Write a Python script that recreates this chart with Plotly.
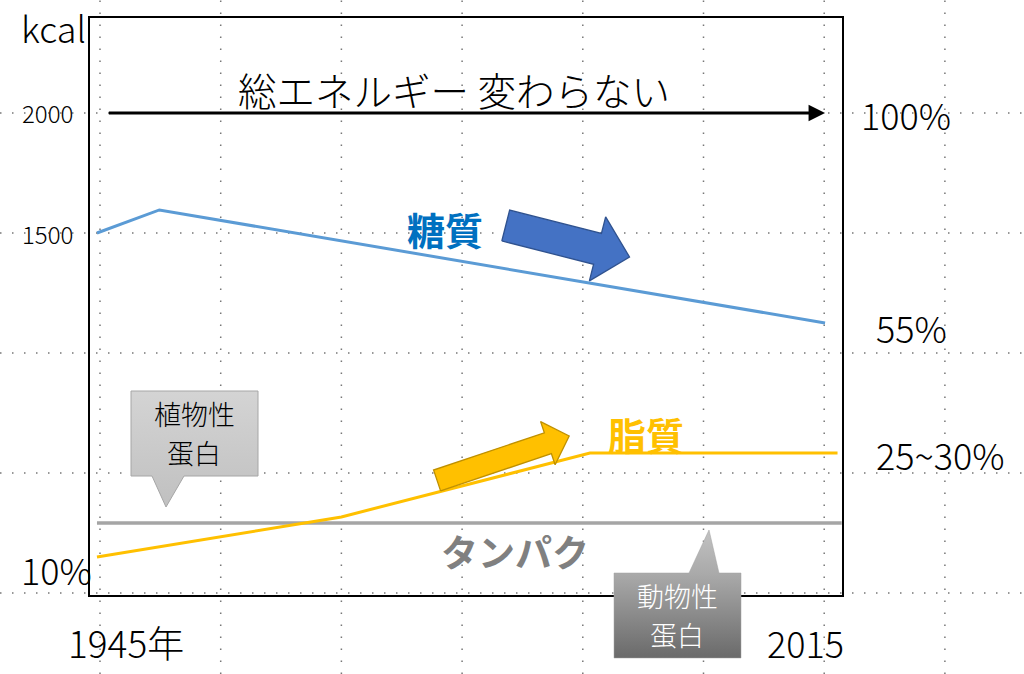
import plotly.graph_objects as go

# values (x = year, y = kcal)
carb_years = [1945, 1951, 2015]
carb_kcal = [1500, 1596, 1125]

fat_years = [1945, 1968.5, 1992.4, 2016.2]
fat_kcal = [150, 317, 583, 583]

protein_years = [1945, 2016.6]
protein_kcal = [292, 292]

total_years = [1946, 2015]
total_kcal = [2000, 2000]

kcal_ticks = [2000, 1500]
share_labels = ["100%", "55%", "25~30%"]
share_kcal = [1996, 1108, 579]
low_share_label = "10%"
low_share_kcal = 100
year_labels = ["1945年", "2015"]

# canvas / plot box in pixels
W, H = 1024, 674
BOX_L, BOX_T, BOX_R, BOX_B = 90, 18, 842, 595
X_RANGE = [1944.33, 2016.63]
Y_RANGE = [-8.3, 2395.8]

FONT = "Noto Sans CJK JP"


def px(year, kcal):
    x = BOX_L + (year - X_RANGE[0]) / (X_RANGE[1] - X_RANGE[0]) * (BOX_R - BOX_L)
    y = BOX_B - (kcal - Y_RANGE[0]) / (Y_RANGE[1] - Y_RANGE[0]) * (BOX_B - BOX_T)
    return x, y


def block_arrow(tail, tip, shaft_w, head_w, head_len):
    # tail / tip in data coords, sizes in pixels -> polygon in pixels
    x0, y0 = px(*tail)
    x1, y1 = px(*tip)
    dx, dy = x1 - x0, y1 - y0
    ln = (dx * dx + dy * dy) ** 0.5
    ux, uy = dx / ln, dy / ln
    nx, ny = -uy, ux
    bx, by = x1 - ux * head_len, y1 - uy * head_len
    pts = [
        (x0 + nx * shaft_w / 2, y0 + ny * shaft_w / 2),
        (bx + nx * shaft_w / 2, by + ny * shaft_w / 2),
        (bx + nx * head_w / 2, by + ny * head_w / 2),
        (x1, y1),
        (bx - nx * head_w / 2, by - ny * head_w / 2),
        (bx - nx * shaft_w / 2, by - ny * shaft_w / 2),
        (x0 - nx * shaft_w / 2, y0 - ny * shaft_w / 2),
    ]
    pts.append(pts[0])
    return [p[0] for p in pts], [p[1] for p in pts]


def callout(box, base, tip):
    l, t, r, b = box
    if tip[1] > b:  # pointer below the box
        pts = [(l, t), (r, t), (r, b), (base[1], b), tip, (base[0], b), (l, b), (l, t)]
    else:  # pointer above the box
        pts = [(l, t), (base[0], t), tip, (base[1], t), (r, t), (r, b), (l, b), (l, t)]
    return [p[0] for p in pts], [p[1] for p in pts]


fig = go.Figure()

# main data lines
fig.add_trace(go.Scatter(x=protein_years, y=protein_kcal, mode="lines",
                         line=dict(color="#A5A5A5", width=3.5), hoverinfo="skip"))
fig.add_trace(go.Scatter(x=fat_years, y=fat_kcal, mode="lines",
                         line=dict(color="#FFC000", width=3), hoverinfo="skip"))
fig.add_trace(go.Scatter(x=carb_years, y=carb_kcal, mode="lines",
                         line=dict(color="#5B9BD5", width=3), hoverinfo="skip"))

# block arrows (decoration, drawn on a pixel overlay axis)
ax_, ay_ = block_arrow((1984.3, 1531), (1996.2, 1400), 31.8, 66, 33)
fig.add_trace(go.Scatter(x=ax_, y=ay_, mode="lines", fill="toself", fillcolor="#4472C4",
                         line=dict(color="#2F528F", width=1.3), xaxis="x2", yaxis="y2",
                         hoverinfo="skip"))
ax_, ay_ = block_arrow((1977.7, 469), (1990.4, 654), 22, 45.5, 22.5)
fig.add_trace(go.Scatter(x=ax_, y=ay_, mode="lines", fill="toself", fillcolor="#FFC000",
                         line=dict(color="#BF9000", width=1.3), xaxis="x2", yaxis="y2",
                         hoverinfo="skip"))

# callouts
cx, cy = callout((131, 391, 258, 476), (152, 184), (166, 507))
fig.add_trace(go.Scatter(x=cx, y=cy, mode="lines", fill="toself",
                         fillgradient=dict(type="vertical", start=391, stop=507,
                                           colorscale=[[0, "#D4D4D4"], [1, "#C0C0C0"]]),
                         line=dict(color="#A6A6A6", width=1), xaxis="x2", yaxis="y2",
                         hoverinfo="skip"))
cx, cy = callout((614, 573, 741, 658), (689, 719), (709, 530))
fig.add_trace(go.Scatter(x=cx, y=cy, mode="lines", fill="toself",
                         fillgradient=dict(type="vertical", start=530, stop=658,
                                           colorscale=[[0, "#C2C2C2"], [0.35, "#A9A9A9"],
                                                       [1, "#6A6A6A"]]),
                         line=dict(color="#A0A0A0", width=0.5), xaxis="x2", yaxis="y2",
                         hoverinfo="skip"))

# dotted background grid across the whole slide
shapes = []
for k in kcal_ticks + [1000, 500, 0]:
    _, gy = px(1945, k)
    shapes.append(dict(type="line", xref="paper", yref="paper", x0=0, x1=1,
                       y0=1 - gy / H, y1=1 - gy / H, layer="below",
                       line=dict(color="#777777", width=1.5, dash="1.5px,10.5px")))
for i in range(8):
    gx = 100 + 120.7 * i
    shapes.append(dict(type="line", xref="paper", yref="paper", x0=gx / W, x1=gx / W,
                       y0=0, y1=1, layer="below",
                       line=dict(color="#777777", width=1.5, dash="1.5px,10.5px")))

annotations = []


def label(text, x, y, size, color="black", xanchor="center", weight=300):
    annotations.append(dict(text=text, x=x, y=y, xref="x2", yref="y2", showarrow=False,
                            xanchor=xanchor, yanchor="middle", borderpad=0,
                            font=dict(family=FONT, size=size, color=color, weight=weight)))


# total energy arrow
annotations.append(dict(x=total_years[1], y=total_kcal[1], ax=total_years[0], ay=total_kcal[0],
                        xref="x", yref="y", axref="x", ayref="y", text="", showarrow=True,
                        arrowhead=2, arrowsize=1.1, arrowwidth=3, arrowcolor="black",
                        standoff=0))

label("kcal", 20, 27, 36, xanchor="left")
for k in kcal_ticks:
    label(str(k), 47, px(1945, k)[1], 24)
share_x = [860, 875, 875]
for t, k, x in zip(share_labels, share_kcal, share_x):
    label(t, x, px(1945, k)[1], 36, xanchor="left")
label(low_share_label, 20, px(1945, low_share_kcal)[1], 36, xanchor="left")
label(year_labels[0], 126, 642, 37)
label(year_labels[1], 805, 642, 36)

label("総エネルギー 変わらない", 454, 89, 38.5)
label("糖質", 445, 228, 38, color="#0070C0", weight="bold")
label("脂質", 646, 433, 38, color="#FFC000", weight="bold")
label("タンパク", 515, 551, 37, color="#808080", weight="bold")
label("植物性", 194, 413, 27)
label("蛋白", 194, 452, 27)
label("動物性", 677, 595, 27, color="white")
label("蛋白", 677, 634, 27, color="white")

fig.update_layout(
    width=W, height=H,
    margin=dict(l=0, r=0, t=0, b=0, autoexpand=False),
    paper_bgcolor="white", plot_bgcolor="rgba(0,0,0,0)",
    showlegend=False,
    xaxis=dict(domain=[BOX_L / W, BOX_R / W], range=X_RANGE, showgrid=False, zeroline=False,
               showticklabels=False, ticks="", showline=True, mirror=True,
               linecolor="black", linewidth=2, fixedrange=True),
    yaxis=dict(domain=[1 - BOX_B / H, 1 - BOX_T / H], range=Y_RANGE, showgrid=False,
               zeroline=False, showticklabels=False, ticks="", showline=True, mirror=True,
               linecolor="black", linewidth=2, fixedrange=True),
    xaxis2=dict(domain=[0, 1], range=[0, W], visible=False, anchor="y2", fixedrange=True),
    yaxis2=dict(domain=[0, 1], range=[H, 0], visible=False, anchor="x2", fixedrange=True),
    shapes=shapes,
    annotations=annotations,
)

fig.write_html("out.html", config={"displayModeBar": False},
               post_script="document.body.style.margin='0';")
